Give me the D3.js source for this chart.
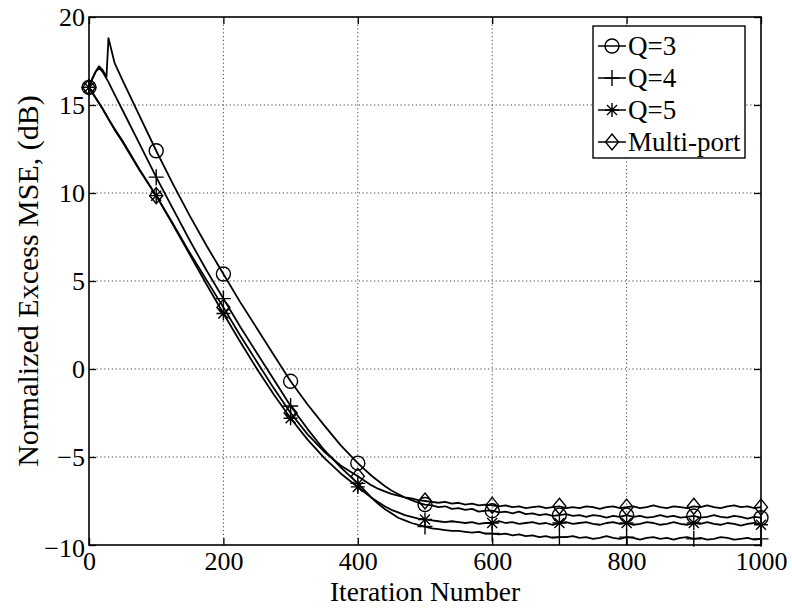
<!DOCTYPE html>
<html>
<head>
<meta charset="utf-8">
<script src="https://cdn.jsdelivr.net/npm/d3@7"></script>
<style>
  html, body { margin: 0; padding: 0; background: #fff; }
  svg { display: block; }
  text { font-family: "Liberation Serif", "Times New Roman", serif; fill: #000; }
</style>
</head>
<body>
<svg id="chart" width="792" height="608"></svg>
<script>
// ---------------- data ----------------
const iterations = [0,5,10,15,20,26,29,38,50,75,100,125,150,175,200,225,250,275,300,325,350,375,400,
  410,420,430,440,450,460,470,480,490,500,
  510,520,530,540,550,560,570,580,590,600,
  610,620,630,640,650,660,670,680,690,700,
  710,720,730,740,750,760,770,780,790,800,
  810,820,830,840,850,860,870,880,890,900,
  910,920,930,940,950,960,970,980,990,1000];

const q3 = [16.0,16.5,16.9,17.2,17.0,16.6,18.8,17.4,16.4,14.4,12.4,10.5,8.7,7.0,5.4,3.8,2.3,0.8,-0.7,-2.0,-3.2,-4.35,-5.35,
  -5.7,-6.05,-6.35,-6.65,-6.9,-7.1,-7.3,-7.45,-7.6,-7.7,
  -7.75,-7.85,-7.8,-7.95,-7.9,-8.0,-7.95,-8.1,-8.05,-8.05,
  -8.15,-8.1,-8.2,-8.1,-8.25,-8.2,-8.3,-8.25,-8.35,-8.3,
  -8.25,-8.35,-8.3,-8.4,-8.3,-8.35,-8.45,-8.35,-8.4,-8.3,
  -8.4,-8.35,-8.45,-8.4,-8.3,-8.4,-8.35,-8.45,-8.4,-8.35,
  -8.45,-8.4,-8.3,-8.4,-8.45,-8.35,-8.4,-8.5,-8.4,-8.45];

const q4 = [16.0,16.5,16.9,17.1,16.9,16.5,16.3,15.6,14.7,12.8,10.9,9.1,7.3,5.6,4.0,2.4,0.9,-0.6,-2.1,-3.4,-4.6,-5.6,-6.5,
  -6.9,-7.3,-7.65,-7.95,-8.2,-8.45,-8.6,-8.75,-8.85,-8.95,
  -9.05,-9.1,-9.15,-9.2,-9.2,-9.25,-9.3,-9.25,-9.35,-9.35,
  -9.4,-9.35,-9.45,-9.4,-9.5,-9.45,-9.55,-9.5,-9.6,-9.55,
  -9.55,-9.5,-9.6,-9.55,-9.65,-9.6,-9.5,-9.6,-9.65,-9.55,
  -9.6,-9.7,-9.6,-9.55,-9.65,-9.6,-9.7,-9.6,-9.55,-9.65,
  -9.6,-9.7,-9.65,-9.55,-9.6,-9.7,-9.65,-9.6,-9.7,-9.65];

const q5 = [16.0,15.7,15.4,15.1,14.8,14.4,14.2,13.6,12.9,11.3,9.85,8.2,6.5,4.8,3.15,1.55,0.0,-1.45,-2.8,-4.0,-5.05,-5.95,-6.7,
  -7.0,-7.3,-7.55,-7.8,-8.0,-8.15,-8.3,-8.4,-8.5,-8.55,
  -8.6,-8.65,-8.7,-8.65,-8.7,-8.75,-8.7,-8.8,-8.75,-8.75,
  -8.65,-8.75,-8.7,-8.8,-8.75,-8.7,-8.8,-8.75,-8.85,-8.75,
  -8.7,-8.8,-8.75,-8.7,-8.8,-8.85,-8.75,-8.7,-8.8,-8.75,
  -8.85,-8.8,-8.7,-8.75,-8.85,-8.8,-8.7,-8.8,-8.85,-8.75,
  -8.8,-8.7,-8.8,-8.85,-8.75,-8.8,-8.9,-8.8,-8.75,-8.85];

const multiPort = [16.0,15.7,15.4,15.1,14.8,14.4,14.2,13.65,12.95,11.35,9.85,8.25,6.6,5.05,3.5,1.9,0.4,-1.1,-2.5,-3.7,-4.7,-5.5,-6.1,
  -6.35,-6.6,-6.8,-6.95,-7.1,-7.2,-7.3,-7.35,-7.45,-7.5,
  -7.55,-7.6,-7.55,-7.65,-7.6,-7.7,-7.65,-7.75,-7.7,-7.75,
  -7.8,-7.75,-7.85,-7.8,-7.9,-7.85,-7.8,-7.9,-7.85,-7.8,
  -7.9,-7.85,-7.9,-7.8,-7.85,-7.95,-7.85,-7.8,-7.9,-7.85,
  -7.8,-7.9,-7.85,-7.75,-7.85,-7.9,-7.8,-7.85,-7.9,-7.8,
  -7.85,-7.75,-7.85,-7.9,-7.8,-7.75,-7.85,-7.8,-7.9,-7.85];

const seriesNames = ["Q=3", "Q=4", "Q=5", "Multi-port"];
const seriesMarkers = ["circle", "plus", "star", "diamond"];
const xTicks = [0, 200, 400, 600, 800, 1000];
const yTicks = [-10, -5, 0, 5, 10, 15, 20];
const xLabel = "Iteration Number";
const yLabel = "Normalized Excess MSE, (dB)";
const markerEvery = 100;

// ---------------- layout ----------------
const L = 89, R = 761, T = 17, B = 545;
const svg = d3.select("#chart");
const x = d3.scaleLinear().domain([0, 1000]).range([L, R]);
const y = d3.scaleLinear().domain([-10, 20]).range([B, T]);

// grid
const grid = svg.append("g");
grid.selectAll("line.gx").data(xTicks.slice(1, -1)).join("line")
  .attr("x1", d => x(d)).attr("x2", d => x(d)).attr("y1", T).attr("y2", B)
  .attr("stroke", "#444").attr("stroke-width", 1).attr("stroke-dasharray", "1.2,2.6");
grid.selectAll("line.gy").data(yTicks.slice(1, -1)).join("line")
  .attr("x1", L).attr("x2", R).attr("y1", d => y(d)).attr("y2", d => y(d))
  .attr("stroke", "#444").attr("stroke-width", 1).attr("stroke-dasharray", "1.2,2.6");

// axes
const fontTick = 26;
const axB = svg.append("g").attr("transform", `translate(0,${B})`)
  .call(d3.axisBottom(x).tickValues(xTicks).tickSize(-7).tickPadding(6.5).tickFormat(d3.format("d")));
const axL = svg.append("g").attr("transform", `translate(${L},0)`)
  .call(d3.axisLeft(y).tickValues(yTicks).tickSize(-7).tickPadding(4).tickFormat(d3.format("d")));
const axT = svg.append("g").attr("transform", `translate(0,${T})`)
  .call(d3.axisTop(x).tickValues(xTicks).tickSize(-7).tickFormat(""));
const axR = svg.append("g").attr("transform", `translate(${R},0)`)
  .call(d3.axisRight(y).tickValues(yTicks).tickSize(-7).tickFormat(""));
[axB, axL, axT, axR].forEach(g => {
  g.select(".domain").remove();
  g.selectAll(".tick line").attr("stroke", "#000").attr("stroke-width", 1.3);
  g.selectAll(".tick text").style("font-family", "'Liberation Serif', serif").style("font-size", fontTick + "px").attr("fill", "#000");
});
axL.selectAll(".tick text").filter(d => d === -10).attr("dy", "0.45em");

// box
svg.append("rect").attr("x", L).attr("y", T).attr("width", R - L).attr("height", B - T)
  .attr("fill", "none").attr("stroke", "#000").attr("stroke-width", 1.6);

// markers
function markerPath(type) {
  const p = d3.path();
  if (type === "circle") { p.moveTo(7, 0); p.arc(0, 0, 7, 0, 2 * Math.PI); }
  else if (type === "plus") { p.moveTo(-7.5, 0); p.lineTo(7.5, 0); p.moveTo(0, -8); p.lineTo(0, 8); }
  else if (type === "star") {
    p.moveTo(-7, 0); p.lineTo(7, 0); p.moveTo(0, -7); p.lineTo(0, 7);
    p.moveTo(-5, -5); p.lineTo(5, 5); p.moveTo(-5, 5); p.lineTo(5, -5);
  }
  else if (type === "diamond") { p.moveTo(0, -8); p.lineTo(6.5, 0); p.lineTo(0, 8); p.lineTo(-6.5, 0); p.closePath(); }
  return p.toString();
}

const allSeries = [q3, q4, q5, multiPort];
const line = d3.line().x(d => x(d[0])).y(d => y(d[1]));
const plot = svg.append("g");
allSeries.forEach((vals, i) => {
  const pts = iterations.map((it, k) => [it, vals[k]]);
  plot.append("path").datum(pts).attr("d", line)
    .attr("fill", "none").attr("stroke", "#000").attr("stroke-width", 1.8).attr("stroke-linejoin", "round");
  plot.selectAll(null).data(pts.filter(d => d[0] % markerEvery === 0)).join("path")
    .attr("transform", d => `translate(${x(d[0])},${y(d[1])})`)
    .attr("d", markerPath(seriesMarkers[i]))
    .attr("fill", "none").attr("stroke", "#000").attr("stroke-width", 1.4);
});

// legend
const lg = svg.append("g");
const lgX = 593, lgY = 26, lgW = 152, lgRow = 32, lgH = 132;
lg.append("rect").attr("x", lgX).attr("y", lgY).attr("width", lgW).attr("height", lgH)
  .attr("fill", "#fff").attr("stroke", "#000").attr("stroke-width", 1.4);
seriesNames.forEach((name, i) => {
  const cy = lgY + 20 + i * lgRow;
  lg.append("line").attr("x1", lgX + 5).attr("x2", lgX + 33).attr("y1", cy).attr("y2", cy)
    .attr("stroke", "#000").attr("stroke-width", 1.5);
  lg.append("path").attr("transform", `translate(${lgX + 19},${cy})`).attr("d", markerPath(seriesMarkers[i]))
    .attr("fill", "none").attr("stroke", "#000").attr("stroke-width", 1.4);
  lg.append("text").attr("x", lgX + 35).attr("y", cy).attr("dy", "0.35em")
    .style("font-size", "27px").text(name);
});

// axis titles
svg.append("text").attr("x", (L + R) / 2).attr("y", 601).attr("text-anchor", "middle")
  .style("font-size", "27.5px").text(xLabel);
svg.append("text").attr("transform", `translate(38,${(T + B) / 2}) rotate(-90)`).attr("text-anchor", "middle")
  .style("font-size", "30px").text(yLabel);
</script>
</body>
</html>
